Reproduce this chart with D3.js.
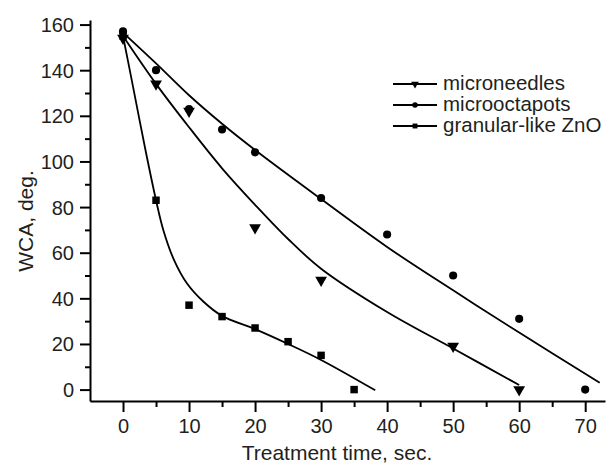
<!DOCTYPE html>
<html>
<head>
<meta charset="utf-8">
<script src="https://cdn.jsdelivr.net/npm/d3@7"></script>
<style>
  body { margin: 0; background: #fff; }
  text { font-family: "Liberation Sans", Arial, sans-serif; fill: #231f20; }
</style>
</head>
<body>
<div id="chart"></div>
<script>
// measured points
var needleT   = [0, 5, 10, 20, 30, 50, 60];
var needleWCA = [154, 134, 122, 71, 48, 19, 0];
var octaT     = [0, 5, 10, 15, 20, 30, 40, 50, 60, 70];
var octaWCA   = [157, 140, 123, 114, 104, 84, 68, 50, 31, 0];
var zincT     = [0, 5, 10, 15, 20, 25, 30, 35];
var zincWCA   = [155, 83, 37, 32, 27, 21, 15, 0];

// fitted curves
var needleFitT   = [0, 5, 10, 15, 20, 25, 30, 40, 50, 60];
var needleFitWCA = [155, 134, 115, 97, 81, 66, 53, 34, 18, 2];
var octaFitT     = [0, 5, 10, 15, 20, 30, 40, 50, 60, 72.2];
var octaFitWCA   = [156.5, 143, 129, 116.5, 105, 83.5, 62.5, 43.5, 25, 3];
var zincFitT     = [0, 1.5, 3.4, 5, 6.1, 7.7, 9.7, 12.2, 15, 20, 25, 30, 38.2];
var zincFitWCA   = [155, 133, 105, 83, 70, 57, 46.5, 38.5, 32.3, 26.5, 20, 13, -0.3];

var legendNames = ["microneedles", "microoctapots", "granular-like ZnO"];
var xTicks = [0, 10, 20, 30, 40, 50, 60, 70];
var yTicks = [0, 20, 40, 60, 80, 100, 120, 140, 160];

var W = 610, H = 464;

var svg = d3.select("#chart").append("svg")
    .attr("width", W)
    .attr("height", H);

var x = d3.scaleLinear().domain([-5, 73]).range([90, 605]);
var y = d3.scaleLinear().domain([-5, 162]).range([401, 20]);

// minor ticks first, then major axes on top
svg.append("g")
    .attr("transform", "translate(0,401)")
    .call(d3.axisBottom(x).tickValues(d3.range(5, 70, 10)).tickSize(6).tickFormat(""))
    .call(function(g) { g.select(".domain").remove(); });
svg.append("g")
    .attr("transform", "translate(90,0)")
    .call(d3.axisLeft(y).tickValues(d3.range(10, 160, 20)).tickSize(5).tickFormat(""))
    .call(function(g) { g.select(".domain").remove(); });

var xAxis = svg.append("g")
    .attr("transform", "translate(0,401)")
    .call(d3.axisBottom(x).tickValues(xTicks).tickSize(11).tickSizeOuter(0).tickPadding(7));
var yAxis = svg.append("g")
    .attr("transform", "translate(90,0)")
    .call(d3.axisLeft(y).tickValues(yTicks).tickSize(10).tickSizeOuter(0).tickPadding(6));

svg.selectAll(".domain, .tick line")
    .attr("stroke", "#000")
    .attr("stroke-width", 2);
xAxis.selectAll("text").attr("font-size", 20).attr("font-family", null);
yAxis.selectAll("text").attr("font-size", 20).attr("font-family", null).attr("dy", "0.35em");

// axis titles
svg.append("text")
    .attr("x", 337)
    .attr("y", 460)
    .attr("text-anchor", "middle")
    .attr("font-size", 21)
    .text("Treatment time, sec.");
svg.append("text")
    .attr("transform", "translate(33,221) rotate(-90)")
    .attr("text-anchor", "middle")
    .attr("font-size", 21)
    .text("WCA, deg.");

var line = d3.line()
    .x(function(d) { return x(d[0]); })
    .y(function(d) { return y(d[1]); })
    .curve(d3.curveCatmullRom.alpha(0.5));

var fits = [
  d3.zip(needleFitT, needleFitWCA),
  d3.zip(octaFitT, octaFitWCA),
  d3.zip(zincFitT, zincFitWCA)
];

svg.selectAll(".fit")
    .data(fits)
    .enter().append("path")
    .attr("class", "fit")
    .attr("d", line)
    .attr("fill", "none")
    .attr("stroke", "#000")
    .attr("stroke-width", 1.8);

var symbols = [
  d3.symbol().type(d3.symbolTriangle).size(60),
  d3.symbol().type(d3.symbolCircle).size(52),
  d3.symbol().type(d3.symbolSquare).size(56)
];
var rot = [180, 0, 0];
var series = [
  d3.zip(needleT, needleWCA),
  d3.zip(octaT, octaWCA),
  d3.zip(zincT, zincWCA)
];

series.forEach(function(pts, i) {
  svg.append("g").selectAll("path")
      .data(pts)
      .enter().append("path")
      .attr("d", symbols[i])
      .attr("fill", "#000")
      .attr("transform", function(d) {
        return "translate(" + x(d[0]) + "," + y(d[1]) + ") rotate(" + rot[i] + ")";
      });
});

// legend
var legSym = [
  d3.symbol().type(d3.symbolTriangle).size(26),
  d3.symbol().type(d3.symbolCircle).size(24),
  d3.symbol().type(d3.symbolSquare).size(24)
];
var leg = svg.append("g").selectAll("g")
    .data(legendNames)
    .enter().append("g")
    .attr("transform", function(d, i) { return "translate(0," + (84 + i * 21) + ")"; });

leg.append("line")
    .attr("x1", 393).attr("x2", 437)
    .attr("stroke", "#000")
    .attr("stroke-width", 1.8);
leg.append("path")
    .attr("d", function(d, i) { return legSym[i](); })
    .attr("transform", function(d, i) { return "translate(415,0) rotate(" + rot[i] + ")"; })
    .attr("fill", "#000");
leg.append("text")
    .attr("x", 443)
    .attr("y", 6)
    .attr("font-size", 20.5)
    .text(function(d) { return d; });
</script>
</body>
</html>
